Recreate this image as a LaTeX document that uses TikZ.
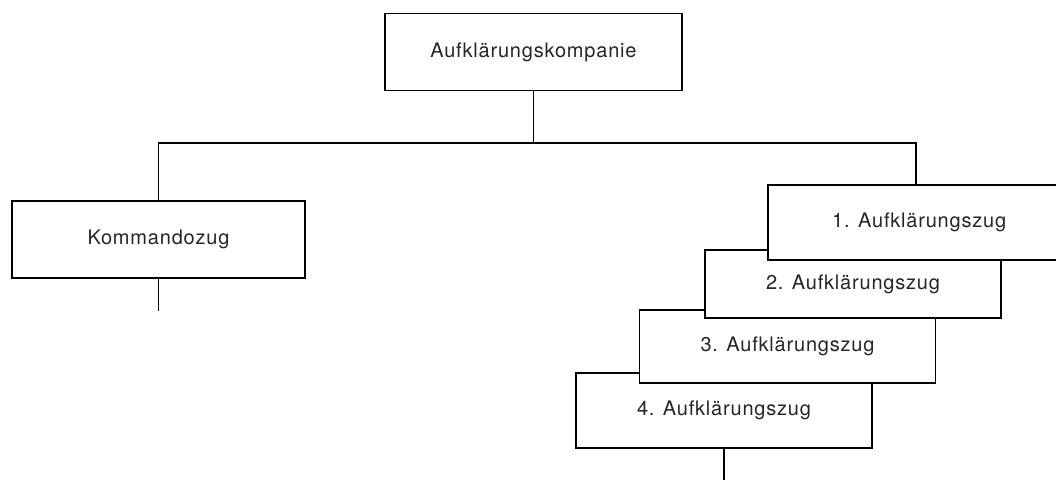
\documentclass[tikz,border=0pt]{standalone}
\usepackage{fontspec}
\setmainfont{TeX Gyre Heros}[LetterSpace=4]

\tikzset{
  unit/.style={draw, fill=white, line width=1.3pt, inner sep=0pt,
    minimum height=75pt, text=black!85, font=\fontsize{20}{24}\selectfont},
  zug/.style={unit, minimum width=296pt}
}

\begin{document}
\begin{tikzpicture}[x=1pt,y=-1pt, line width=1.3pt]
\clip (0,0) rectangle (1056,479);

\node[unit, minimum width=297pt, minimum height=77pt] (kompanie) at (533.5,52) {Aufklärungskompanie};
\node[unit, minimum width=293pt, minimum height=77pt] (kommando) at (158.5,239.5) {Kommandozug};

% staggered platoons, back to front
\node[zug] (zug4) at (724,410.5) {4. Aufklärungszug};
\node[zug, minimum height=73pt] (zug3) at (787.5,346.5) {3. Aufklärungszug};
\node[zug, minimum height=68pt] (zug2) at (853,284) {2. Aufklärungszug};
\node[zug] (zug1) at (916,222.5) {~1. Aufklärungszug};

\coordinate (bus) at (533.5,143);
\draw (kompanie.south) -- (bus);
\draw (kommando.north) |- (bus) -| (zug1.north);
\draw (kommando.south) -- ++(0,32);
\draw (zug4.south) -- ++(0,35);
\end{tikzpicture}
\end{document}
